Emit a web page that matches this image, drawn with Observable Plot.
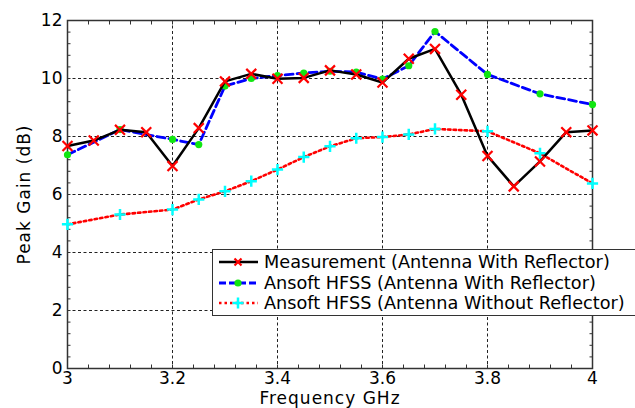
<!DOCTYPE html>
<html><head><meta charset="utf-8">
<script src="https://cdn.jsdelivr.net/npm/d3@7"></script>
<script src="https://cdn.jsdelivr.net/npm/@observablehq/plot@0.6"></script>
<style>
html,body{margin:0;padding:0;background:#fff;overflow:hidden;}
#wrap{position:relative;width:635px;height:408px;overflow:hidden;}
#legend{position:absolute;left:212px;top:249px;width:440px;height:67px;border:1.3px solid #333;background:#fff;box-sizing:border-box;font-family:"DejaVu Sans";font-size:17.7px;color:#000;}
#legend .row{position:absolute;left:5px;height:21px;display:flex;align-items:center;white-space:nowrap;}
#legend svg{margin-right:5px;}
svg [aria-label="x-axis label"] text, svg [aria-label="y-axis label"] text{letter-spacing:1px;}
</style></head>
<body><div id="wrap"></div>
<script>
// ---- data ----
const measFreq = [3,3.05,3.1,3.15,3.2,3.25,3.3,3.35,3.4,3.45,3.5,3.55,3.6,3.65,3.7,3.75,3.8,3.85,3.9,3.95,4.0];
const measGain = [7.67,7.86,8.23,8.15,6.98,8.29,9.90,10.16,9.99,10.02,10.28,10.14,9.86,10.68,11.02,9.44,7.33,6.28,7.14,8.15,8.21];
const simFreq = [3,3.1,3.2,3.25,3.3,3.35,3.4,3.45,3.5,3.55,3.6,3.65,3.7,3.8,3.9,4.0];
const withGain = [7.37,8.24,7.90,7.72,9.74,10.0,10.10,10.19,10.25,10.22,9.98,10.44,11.62,10.14,9.47,9.10];
const withoutGain = [4.97,5.31,5.48,5.83,6.11,6.46,6.86,7.29,7.66,7.94,7.98,8.07,8.26,8.18,7.42,6.38];
const seriesNames = ["Measurement (Antenna With Reflector)","Ansoft HFSS (Antenna With Reflector)","Ansoft HFSS (Antenna Without Reflector)"];
const xTicks = [3,3.2,3.4,3.6,3.8,4];
const yTicks = [0,2,4,6,8,10,12];
const xGrid = [3.2,3.4,3.6,3.8];
const yGrid = [2,4,6,8,10];
const xMinor = d3.range(0,26).map(i => +(3 + i*0.04).toFixed(2));
const yMinor = d3.range(0,31).map(i => +(i*0.4).toFixed(1));

const meas = measFreq.map((f,i)=>({f, g: measGain[i]}));
const withR = simFreq.map((f,i)=>({f, g: withGain[i]}));
const withoutR = simFreq.map((f,i)=>({f, g: withoutGain[i]}));

const tk = 3.5;
const gridStyle = {stroke:"#222", strokeOpacity:1, strokeWidth:1, strokeDasharray:"3,2.5"};
const chart = Plot.plot({
  width:635, height:408, marginLeft:67, marginRight:43, marginTop:20, marginBottom:40,
  style:{fontFamily:"DejaVu Sans", fontSize:"17px", color:"#000", background:"#fff"},
  x:{domain:[3,4]}, y:{domain:[0,12]},
  marks:[
    Plot.gridX(xGrid, gridStyle),
    Plot.gridY(yGrid, gridStyle),
    Plot.axisX(xMinor,{anchor:"bottom", tickSize:tk, dy:-tk, text:null, label:null, stroke:"#333"}),
    Plot.axisX(xMinor,{anchor:"top", tickSize:tk, dy:tk, text:null, label:null, stroke:"#333"}),
    Plot.axisY(yMinor,{anchor:"left", tickSize:tk, dx:tk, text:null, label:null, stroke:"#333"}),
    Plot.axisY(yMinor,{anchor:"right", tickSize:tk, dx:-tk, text:null, label:null, stroke:"#333"}),
    Plot.axisX(xTicks,{anchor:"bottom", tickSize:0, tickPadding:3, tickFormat:d=>String(d), fontSize:17,
      label:"Frequency GHz", labelAnchor:"center", labelOffset:35, labelArrow:false}),
    Plot.axisY(yTicks,{anchor:"left", tickSize:0, tickPadding:5, tickFormat:d=>String(d), fontSize:17,
      label:"Peak Gain (dB)", labelAnchor:"center", labelOffset:50, labelArrow:false}),
    Plot.frame({stroke:"#333", strokeWidth:1.5}),
    Plot.line(withoutR,{x:"f", y:"g", stroke:"#ff0000", strokeWidth:2.6, strokeDasharray:"2.5,3"}),
    Plot.dot(withoutR,{x:"f", y:"g", symbol:"plus", r:3.7, stroke:"#00ffff", strokeWidth:2.5}),
    Plot.line(withR,{x:"f", y:"g", stroke:"#0000ff", strokeWidth:2.8, strokeDasharray:"8,4"}),
    Plot.dot(withR,{x:"f", y:"g", r:3.6, fill:"#11e611", stroke:null}),
    Plot.line(meas,{x:"f", y:"g", stroke:"#000", strokeWidth:2.5}),
    Plot.dot(meas,{x:"f", y:"g", symbol:"times", r:4.6, stroke:"#ff0000", strokeWidth:2.2})
  ]
});
const wrap = document.getElementById("wrap");
wrap.appendChild(chart);

// legend
const legend = document.createElement("div");
legend.id = "legend";
const sw = [
  `<line x1="1" y1="10" x2="40" y2="10" stroke="#000" stroke-width="2.5"/><path d="M16.5,6.5L23.5,13.5M16.5,13.5L23.5,6.5" stroke="#f00" stroke-width="2.2"/>`,
  `<line x1="1" y1="10" x2="40" y2="10" stroke="#00f" stroke-width="2.8" stroke-dasharray="7,3"/><circle cx="20" cy="10" r="3.6" fill="#11e611"/>`,
  `<line x1="1" y1="10" x2="40" y2="10" stroke="#f00" stroke-width="2.6" stroke-dasharray="2.5,3"/><path d="M20,4.5V15.5M14.5,10H25.5" stroke="#0ff" stroke-width="2.5"/>`
];
const tops = [1, 22.5, 42.5];
seriesNames.forEach((name,i)=>{
  const row = document.createElement("div");
  row.className = "row";
  row.style.top = tops[i] + "px";
  row.innerHTML = `<svg width="41" height="20">${sw[i]}</svg><span>${name}</span>`;
  legend.appendChild(row);
});
wrap.appendChild(legend);
</script>
</body></html>
